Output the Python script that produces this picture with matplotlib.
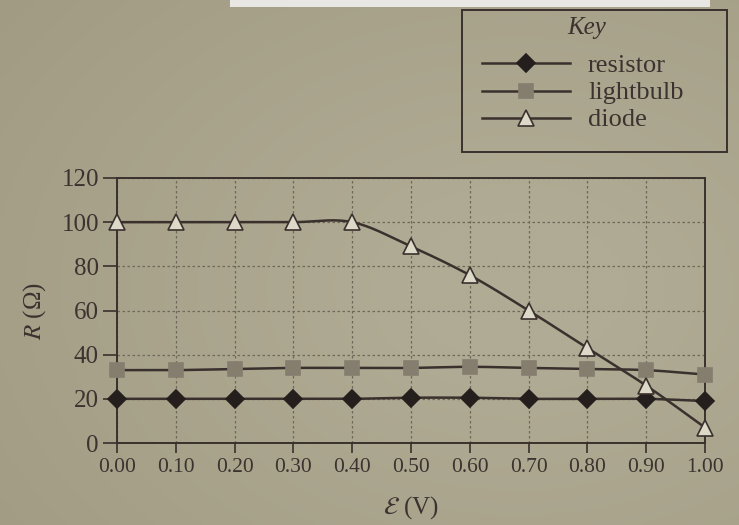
import numpy as np
import matplotlib
matplotlib.use("Agg")
import matplotlib.pyplot as plt
from matplotlib.lines import Line2D
from matplotlib.patches import Rectangle

# Data: resistance of three components against EMF
emf = [0.00, 0.10, 0.20, 0.30, 0.40, 0.50, 0.60, 0.70, 0.80, 0.90, 1.00]
resistor = [20, 20, 20, 20, 20, 20.5, 20.5, 20, 20, 20, 19]
lightbulb = [33, 33, 33.5, 34, 34, 34, 34.5, 34, 33.5, 33, 31]
diode = [100, 100, 100, 100, 100, 89, 76, 60, 43, 26, 7]
x_ticks = [0.00, 0.10, 0.20, 0.30, 0.40, 0.50, 0.60, 0.70, 0.80, 0.90, 1.00]
y_ticks = [0, 20, 40, 60, 80, 100, 120]

plt.rcParams["mathtext.fontset"] = "stix"
plt.rcParams["font.family"] = ["Liberation Serif", "DejaVu Serif"]

PAPER = "#a29c84"
INK = "#3c3330"
LINE = "#3a302d"
W, H = 739, 525


def smooth(xs, ys, n=24):
    """Catmull-Rom curve through the points, for a smoothed line."""
    xs = np.asarray(xs, float)
    ys = np.asarray(ys, float)
    px = np.concatenate([[2 * xs[0] - xs[1]], xs, [2 * xs[-1] - xs[-2]]])
    py = np.concatenate([[2 * ys[0] - ys[1]], ys, [2 * ys[-1] - ys[-2]]])
    ox, oy = [], []
    t = np.linspace(0, 1, n, endpoint=False)
    for i in range(1, len(px) - 2):
        for arr, out in ((px, ox), (py, oy)):
            p0, p1, p2, p3 = arr[i - 1], arr[i], arr[i + 1], arr[i + 2]
            out.extend(0.5 * ((2 * p1) + (-p0 + p2) * t
                              + (2 * p0 - 5 * p1 + 4 * p2 - p3) * t ** 2
                              + (-p0 + 3 * p1 - 3 * p2 + p3) * t ** 3))
    ox.append(xs[-1])
    oy.append(ys[-1])
    return np.array(ox), np.array(oy)


def fx(px):
    return px / W


def fy(py):
    return 1 - py / H


fig = plt.figure(figsize=(W / 100, H / 100), dpi=100)
fig.patch.set_facecolor(PAPER)

# soft shading of the page
gy, gx = np.mgrid[0:1:200j, 0:1:280j]
shade = 0.5 + 0.5 * np.clip(1.2 - np.hypot(gx - 0.7, gy - 0.55) * 1.3, 0, 1)
bg = np.zeros((200, 280, 3))
dark = np.array([0x92, 0x8a, 0x72]) / 255
light = np.array([0xb0, 0xab, 0x94]) / 255
for c in range(3):
    bg[..., c] = dark[c] + (light[c] - dark[c]) * shade
bgax = fig.add_axes([0, 0, 1, 1], zorder=-10)
bgax.imshow(bg, aspect="auto", extent=[0, 1, 0, 1], interpolation="bicubic")
bgax.axis("off")

# white strip at the top edge
fig.patches.append(Rectangle((fx(230), fy(7)), 480 / W, 7 / H,
                             transform=fig.transFigure, facecolor="#e9e7e3",
                             edgecolor="none", zorder=5))

ax = fig.add_axes([fx(117), fy(443), (705 - 117) / W, (443 - 178) / H])
ax.set_facecolor("none")
ax.set_xlim(0, 1.0)
ax.set_ylim(0, 120)

for s in ax.spines.values():
    s.set_color(LINE)
    s.set_linewidth(1.4)

ax.set_xticks(x_ticks)
ax.set_xticklabels([f"{v:.2f}" for v in x_ticks])
ax.set_yticks(y_ticks)
ax.tick_params(axis="x", direction="out", length=7, width=1.2, color=LINE,
               labelsize=15.5, labelcolor=INK, pad=4)
ax.tick_params(axis="y", direction="out", length=10, width=1.2, color=LINE,
               labelsize=18, labelcolor=INK, pad=3)

ax.grid(True, linestyle=(0, (2, 2)), color="#6f6858", linewidth=0.9)
ax.set_axisbelow(True)

series = [
    (resistor, "resistor", "D", 9, "#241e1d", "#241e1d"),
    (lightbulb, "lightbulb", "s", 10, "#857e6f", "#857e6f"),
    (diode, "diode", "^", 11, "#ddd9c9", LINE),
]

for vals, name, mk, ms, fc, ec in series:
    sx, sy = smooth(emf, vals)
    ax.plot(sx, sy, color=LINE, linewidth=1.8, zorder=3, clip_on=False)
    ax.plot(emf, vals, linestyle="none", marker=mk, markersize=ms,
            markerfacecolor=fc, markeredgecolor=ec, markeredgewidth=1.2,
            zorder=4, clip_on=False)

ax.set_ylabel(r"$R$ (Ω)", fontsize=18, color=INK, labelpad=10)
ax.set_xlabel(r"$\mathcal{E}$ (V)", fontsize=18, color=INK, labelpad=12)

# key box above the plot
fig.patches.append(Rectangle((fx(462), fy(152)), (727 - 462) / W, (152 - 10) / H,
                             transform=fig.transFigure, facecolor="none",
                             edgecolor=LINE, linewidth=1.4))
fig.text(fx(587), fy(28), "Key", fontsize=18, style="italic", color=INK,
         ha="center", va="center")
for i, (vals, name, mk, ms, fc, ec) in enumerate(series):
    yy = fy(63 + 27.5 * i)
    fig.add_artist(Line2D([fx(482), fx(570)], [yy, yy], color=LINE,
                          linewidth=1.8, transform=fig.transFigure))
    fig.add_artist(Line2D([fx(526)], [yy], linestyle="none", marker=mk,
                          markersize=ms, markerfacecolor=fc, markeredgecolor=ec,
                          markeredgewidth=1.2, transform=fig.transFigure))
    fig.text(fx(588), yy, name, fontsize=19, color=INK, ha="left",
             va="center_baseline")

fig.savefig("out.png", dpi=100, facecolor=fig.get_facecolor())
